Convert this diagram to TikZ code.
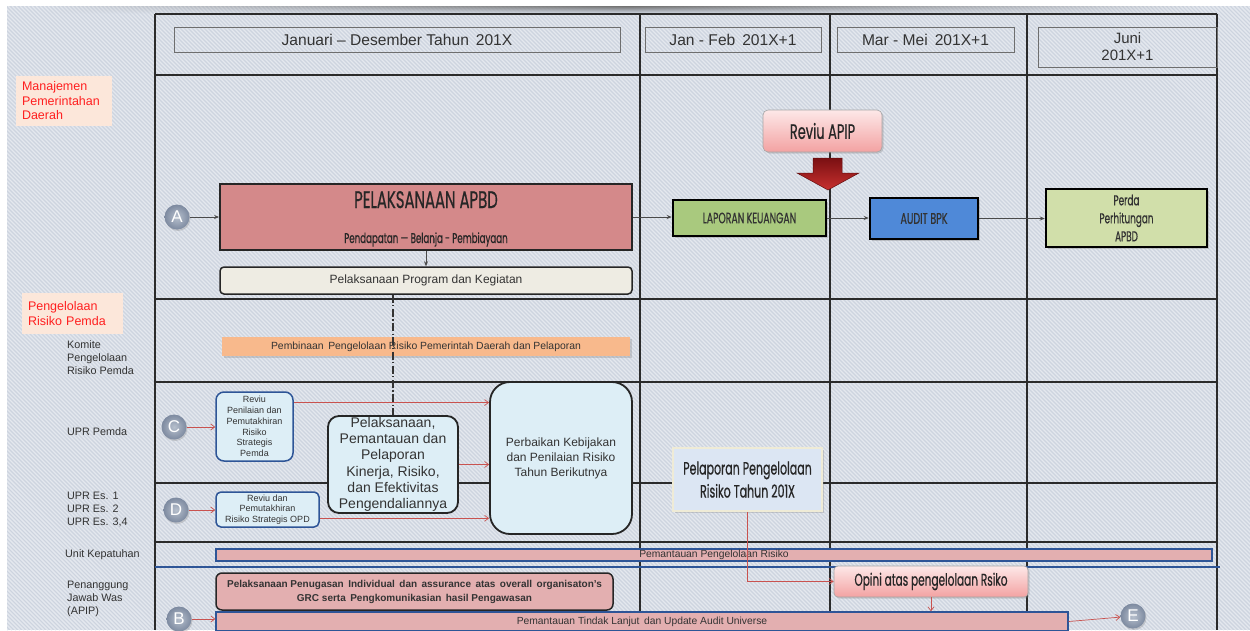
\documentclass[tikz,border=0pt]{standalone}
\usepackage{fontspec}
\setmainfont{Liberation Sans}
\newfontfamily\condfont[FakeStretch=0.62,FakeBold=0.6]{Poppins}
\usetikzlibrary{arrows.meta,shadows,calc,fadings}

\definecolor{bgc}{HTML}{CDD4DF}
\definecolor{stripe}{HTML}{E4E8EE}
\definecolor{gridc}{HTML}{2B2B2B}
\definecolor{hdrline}{HTML}{6E6E6E}
\definecolor{txt}{HTML}{333333}
\definecolor{labred}{HTML}{FF1F1F}
\definecolor{labbg}{HTML}{FCE7DA}
\definecolor{apbdc}{HTML}{D4898A}
\definecolor{progc}{HTML}{EEECE3}
\definecolor{lapc}{HTML}{A9C97E}
\definecolor{auditc}{HTML}{4F89D8}
\definecolor{perdac}{HTML}{D1DFAA}
\definecolor{pinktop}{HTML}{FDE8E8}
\definecolor{pinkbot}{HTML}{F3A2A2}
\definecolor{arrdark}{HTML}{7A1012}
\definecolor{arrlight}{HTML}{C8302F}
\definecolor{orangec}{HTML}{F8B98C}
\definecolor{lblue}{HTML}{DDEEF6}
\definecolor{bblue}{HTML}{2E5597}
\definecolor{redln}{HTML}{C9524F}
\definecolor{pelapc}{HTML}{DCE6F3}
\definecolor{pelapb}{HTML}{EFEBD6}
\definecolor{barpink}{HTML}{E3AFB0}
\definecolor{ballin}{HTML}{B7C0CD}
\definecolor{ballout}{HTML}{7D8AA0}
\definecolor{arrgray}{HTML}{4A4A4A}

\tikzfading[name=edgefade, left color=transparent!100, right color=transparent!100, middle color=transparent!0]

\newcommand{\fs}[2]{\fontsize{#1}{#2}\selectfont}

\begin{document}
\begin{tikzpicture}[x=1pt,y=-1pt,
  gridline/.style={draw=gridc, line width=1.8pt},
  hdrbox/.style={draw=hdrline, line width=0.8pt, inner sep=0pt, text=txt, align=center, font=\fs{15.6}{19}},
  redlab/.style={fill=labbg, text=labred, inner xsep=6pt, inner ysep=0pt, align=left, font=\fs{12.5}{14.5}},
  graylab/.style={anchor=west, text=txt, align=left, font=\fs{10.8}{13}, inner sep=0pt},
  ballnode/.style={circle, minimum size=25pt, inner sep=0pt, shading=radial, inner color=ballin, outer color=ballout,
    text=white, font=\fs{17}{17}, drop shadow={shadow xshift=1pt, shadow yshift=-1.5pt, opacity=0.3}},
  flowbox/.style={inner sep=0pt, align=center},
  thickbox/.style={flowbox, draw=black, line width=2.5pt, text=txt, font=\condfont\fs{15}{15},
    drop shadow={shadow xshift=2pt, shadow yshift=-2pt, opacity=0.35}},
  pinkgrad/.style={flowbox, rounded corners=5pt, draw=gray!70, line width=0.6pt, top color=pinktop, bottom color=pinkbot,
    text=black!85, drop shadow={shadow xshift=1.5pt, shadow yshift=-1.5pt, opacity=0.3}},
  bluebox/.style={flowbox, fill=lblue, draw=bblue, line width=1.5pt, text=txt},
  blackround/.style={flowbox, fill=lblue, draw=black!85, line width=1.8pt, text=txt},
  pinkbar/.style={flowbox, fill=barpink, draw=bblue, line width=1.3pt, text=txt, font=\fs{10.3}{12}},
  thinarr/.style={draw=arrgray, line width=0.7pt, -{Stealth[length=5pt,width=4pt]}},
  redarr/.style={draw=redln, line width=0.7pt, -{Straight Barb[length=4pt,width=6pt]}},
]
\useasboundingbox (0,0) rectangle (1250,630);

% paper and denim texture
\fill[white] (0,0) rectangle (1250,630);
\fill[bgc] (7,6) rectangle (1250,630);
\begin{scope}
  \clip (7,6) rectangle (1250,630);
  \foreach \xx in {-620,-616,...,1250} {\draw[stripe, line width=1.4pt] (\xx,6) -- ++(624,624);}
\end{scope}
\shade[top color=black!55, bottom color=bgc, path fading=edgefade] (50,6) rectangle (1205,13);

% swimlane grid
\draw[gridline] (155,14) -- (1217,14);
\foreach \yy in {75,299,382,483,542} {\draw[gridline] (155,\yy) -- (1217,\yy);}
\foreach \xx in {155,640,830,1027,1217} {\draw[gridline] (\xx,14) -- (\xx,630);}
\draw[draw=bblue, line width=1.6pt] (155,567) -- (1220,567);

% period headers
\node[hdrbox, minimum width=446pt, minimum height=25pt] (hjan) at (397,39.5) {Januari – Desember Tahun\, 201X};
\node[hdrbox, minimum width=176pt, minimum height=25pt] (hfeb) at (733,39.5) {Jan - Feb\, 201X+1};
\node[hdrbox, minimum width=177pt, minimum height=25pt] (hmei) at (925.5,39.5) {Mar - Mei\, 201X+1};
\node[hdrbox, minimum width=179pt, minimum height=40pt, font=\fs{15}{17}] (hjun) at (1127.5,47) {Juni\\201X+1};

% lane labels
\node[redlab, minimum width=96pt, minimum height=50pt, text width=84pt] (lmgmt) at (64,101) {Manajemen\\Pemerintahan\\Daerah};
\node[redlab, minimum width=101pt, minimum height=41pt, text width=89pt] (lrisk) at (72.5,313.5) {Pengelolaan\\Risiko Pemda};
\node[graylab] (lkom) at (67,358) {Komite\\Pengelolaan\\Risiko Pemda};
\node[graylab] (lupr) at (67,432) {UPR Pemda};
\node[graylab] (les) at (67,509.5) {UPR Es. 1\\UPR Es. 2\\UPR Es. 3,4};
\node[graylab] (lkep) at (65,555) {Unit Kepatuhan};
\node[graylab] (lwas) at (67,599) {Penanggung\\Jawab Was\\(APIP)};

% markers
\node[ballnode] (A) at (177,217) {A};
\node[ballnode] (C) at (174,427) {C};
\node[ballnode] (D) at (176,510) {D};
\node[ballnode] (B) at (179,619) {B};
\node[ballnode] (E) at (1133,616) {E};

% budget execution flow
\node[flowbox, fill=apbdc, draw=black!85, line width=1.8pt, minimum width=412pt, minimum height=66pt] (apbd) at (426,217) {};
\node[anchor=base, inner sep=0pt, text=black!85, font=\condfont\fs{24}{24}] (apbdt) at (426,208) {PELAKSANAAN APBD};
\node[anchor=base, inner sep=0pt, text=black!85, font=\condfont\fs{14}{14}] (apbds) at (426,243) {Pendapatan — Belanja - Pembiayaan};
\node[flowbox, fill=progc, draw=black!85, line width=1.5pt, rounded corners=4pt, minimum width=412pt, minimum height=27pt,
  text=txt, font=\fs{12}{14}] (program) at (426,280.5) {Pelaksanaan Program dan Kegiatan};

\node[thickbox, fill=lapc, minimum width=153pt, minimum height=36pt] (laporan) at (749.5,218) {LAPORAN KEUANGAN};
\node[thickbox, fill=auditc, minimum width=108pt, minimum height=41pt, font=\condfont\fs{15.5}{15.5}] (audit) at (924,218.5) {AUDIT BPK};
\node[thickbox, fill=perdac, minimum width=161pt, minimum height=58pt, font=\condfont\fs{14.3}{18}] (perda) at (1126.5,218) {Perda\\Perhitungan\\APBD};

\node[pinkgrad, minimum width=119pt, minimum height=42pt, font=\condfont\fs{21}{21}] (rapip) at (822.5,131) {Reviu APIP};
\shade[top color=arrdark, bottom color=arrlight, draw=arrdark!80!black, line width=0.5pt]
  (813,158) -- (842,158) -- (842,173) -- (859,173) -- (828,190) -- (797,173) -- (813,173) -- cycle;

\draw[thinarr] (A) -- (A -| apbd.west);
\draw[thinarr] (apbd.east) -- (apbd.east -| laporan.west);
\draw[thinarr] (laporan.east) -- (laporan.east -| audit.west);
\draw[thinarr] (audit.east) -- (audit.east -| perda.west);
\draw[thinarr] (apbd.south) -- (program.north);

% risk management lanes
\node[flowbox, fill=orangec, minimum width=408pt, minimum height=19pt, text=txt, font=\fs{10.4}{12},
  drop shadow={shadow xshift=1.5pt, shadow yshift=-2pt, opacity=0.3}] (pembinaan) at (426,346.5)
  {Pembinaan\, Pengelolaan Risiko Pemerintah Daerah dan Pelaporan};

\node[bluebox, rounded corners=8pt, minimum width=77pt, minimum height=69pt, font=\fs{9}{10.8}] (reviu) at (254.5,426.5)
  {Reviu\\Penilaian dan\\Pemutakhiran\\Risiko\\Strategis\\Pemda};
\node[bluebox, rounded corners=5pt, minimum width=103pt, minimum height=35pt, font=\fs{9}{10.5}] (opd) at (267.5,509.5)
  {Reviu dan\\Pemutakhiran\\Risiko Strategis OPD};
\node[blackround, rounded corners=11pt, minimum width=130pt, minimum height=97pt, font=\fs{14}{16.3}] (pel) at (393,464.5)
  {Pelaksanaan,\\Pemantauan dan\\Pelaporan\\Kinerja, Risiko,\\dan Efektivitas\\Pengendaliannya};
\node[blackround, rounded corners=20pt, minimum width=142pt, minimum height=152pt, font=\fs{12}{15}] (perb) at (561,458)
  {Perbaikan Kebijakan\\dan Penilaian Risiko\\Tahun Berikutnya};

\draw[dash pattern=on 8pt off 2.5pt on 1.2pt off 2.5pt, draw=black!80, line width=1.1pt] (program.south -| pel.north) -- (pel.north);

\coordinate (rv) at ($(reviu.north east)!0.16!(reviu.south east)$);
\coordinate (od) at ($(opd.north east)!0.74!(opd.south east)$);
\draw[redarr] (C) -- (C -| reviu.west);
\draw[redarr] (D) -- (D -| opd.west);
\draw[redarr] (rv) -- (rv -| perb.west);
\draw[redarr] (pel.east) -- (pel.east -| perb.west);
\draw[redarr] (od) -- (od -| perb.west);

\node[flowbox, fill=pelapc, draw=pelapb, line width=1.5pt, minimum width=149pt, minimum height=63pt, text=black!85,
  font=\condfont\fs{17.8}{23}, drop shadow={shadow xshift=2pt, shadow yshift=-2pt, opacity=0.3}] (pelap) at (747.5,479.5)
  {Pelaporan Pengelolaan\\Risiko Tahun 201X};

% compliance and assurance lanes
\node[pinkbar, minimum width=996pt, minimum height=12pt] (bar1) at (714,555) {Pemantauan Pengelolaan Risiko};
\node[flowbox, fill=barpink, draw=black!85, line width=1.5pt, rounded corners=6pt, minimum width=397pt, minimum height=37pt,
  text=txt, font=\bfseries\fs{10}{14}] (penug) at (414.5,591.5)
  {Pelaksanaan Penugasan\, Individual\, dan\, assurance\, atas\, overall\, organisaton's\\GRC serta\, Pengkomunikasian\, hasil Pengawasan};
\node[pinkgrad, rounded corners=4pt, minimum width=194pt, minimum height=31pt, font=\condfont\fs{17}{17}] (opini) at (931,581.5)
  {Opini atas pengelolaan Rsiko};
\node[pinkbar, minimum width=852pt, minimum height=19pt] (bar2) at (642,621.5) {Pemantauan Tindak Lanjut\, dan Update Audit Universe};

\draw[redarr] (pelap.south) |- (opini.west);
\draw[redarr] (opini.south) -- (opini.south |- bar2.north);
\draw[redarr] (B) -- (B -| bar2.west);
\draw[redarr] (bar2.east) -- (E);
\end{tikzpicture}
\end{document}
